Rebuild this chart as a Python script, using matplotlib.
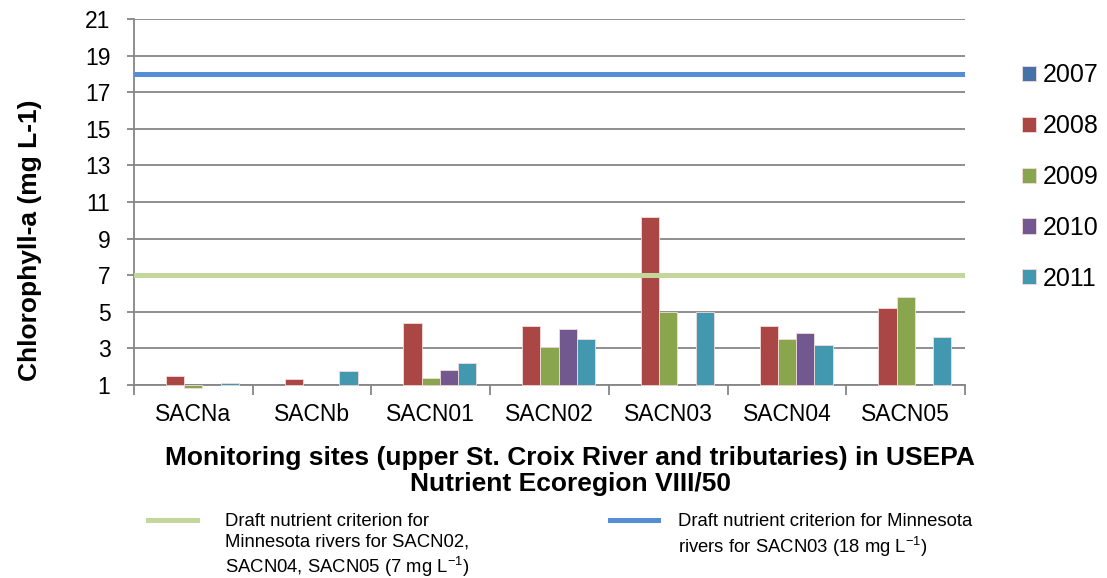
import matplotlib
matplotlib.use("Agg")
import matplotlib.pyplot as plt
import numpy as np
from matplotlib.lines import Line2D

plt.rcParams["font.family"] = ["Liberation Sans", "DejaVu Sans"]
plt.rcParams["mathtext.default"] = "regular"

sites = ["SACNa", "SACNb", "SACN01", "SACN02", "SACN03", "SACN04", "SACN05"]
years = ["2007", "2008", "2009", "2010", "2011"]
colors = ["#4572A7", "#AA4643", "#89A54E", "#71588F", "#4198AF"]

# chlorophyll-a by year; NaN = not sampled
chl_2007 = [np.nan] * 7
chl_2008 = [1.5, 1.33, 4.39, 4.2, 10.2, 4.2, 5.2]
chl_2009 = [0.86, np.nan, 1.4, 3.1, 5.0, 3.5, 5.8]
chl_2010 = [np.nan, np.nan, 1.8, 4.08, np.nan, 3.83, np.nan]
chl_2011 = [1.1, 1.78, 2.2, 3.5, 5.0, 3.2, 3.64]
series = [chl_2007, chl_2008, chl_2009, chl_2010, chl_2011]

crit_7 = 7
crit_18 = 18
base = 1

W, H = 1107, 578
fig = plt.figure(figsize=(W / 100, H / 100), dpi=100)
ax = fig.add_axes([134 / W, 1 - 385 / H, (965 - 134) / W, (385 - 19) / H])

x = np.arange(len(sites))
w = 0.154
for i, (yr, vals, c) in enumerate(zip(years, series, colors)):
    v = np.array(vals, dtype=float)
    ax.bar(x + (i - 2) * w, v - base, bottom=base, width=w, color=c,
           edgecolor="#F2DCDB", linewidth=0.6, label=yr, zorder=3, clip_on=False)

ax.axhline(crit_18, color="#558ED5", lw=3.6, zorder=4)
ax.axhline(crit_7, color="#C3D69B", lw=3.6, zorder=4)

ax.set_xlim(-0.5, len(sites) - 0.5)
ax.set_ylim(1, 21)
ax.set_yticks(np.arange(1, 22, 2))
ax.yaxis.grid(True, color="#868686", lw=1.3, zorder=0)
ax.set_axisbelow(True)
ax.tick_params(axis="y", length=5, color="#868686", width=1.3, labelsize=16.5, pad=12)
ax.set_xticks(x)
ax.set_xticklabels(sites, fontsize=16.5)
ax.tick_params(axis="x", length=0, pad=13)
# tick marks between categories
ax.set_xticks(np.arange(-0.5, len(sites)), minor=True)
ax.tick_params(axis="x", which="minor", length=7, color="#868686", width=1.3)
for s in ["top", "right"]:
    ax.spines[s].set_visible(False)
for s in ["left", "bottom"]:
    ax.spines[s].set_color("#868686")
    ax.spines[s].set_linewidth(1.3)

fig.text(30 / W, 1 - 240 / H, "Chlorophyll-a (mg L-1)", rotation=90,
         fontsize=19, fontweight="bold", ha="center", va="center")
fig.text(570 / W, 1 - 471 / H,
         "Monitoring sites (upper St. Croix River and tributaries) in USEPA\n"
         "Nutrient Ecoregion VIII/50", fontsize=19, fontweight="bold",
         ha="center", va="center", linespacing=1.08)

handles, labels = ax.get_legend_handles_labels()
fig.legend(handles, labels, loc="upper left", bbox_to_anchor=(1004 / W, 1 - 46 / H),
           frameon=False, fontsize=18, handlelength=0.56, handleheight=0.56,
           handletextpad=0.28, labelspacing=1.07, borderpad=0.2)

# criterion key below the chart
keys = [
    ("#C3D69B", 148, 197, 225,
     "Draft nutrient criterion for\nMinnesota rivers for SACN02,\nSACN04, SACN05 (7 mg L$^{-1}$)"),
    ("#558ED5", 610, 658, 678,
     "Draft nutrient criterion for Minnesota\nrivers for SACN03 (18 mg L$^{-1}$)"),
]
for col, x0, x1, tx, txt in keys:
    fig.add_artist(Line2D([x0 / W, x1 / W], [1 - 520 / H] * 2, color=col, lw=3.6,
                          transform=fig.transFigure))
    fig.text(tx / W, 1 - 513 / H, txt, fontsize=13.3, ha="left", va="top",
             linespacing=1.25)

fig.savefig("out.png", dpi=100)
